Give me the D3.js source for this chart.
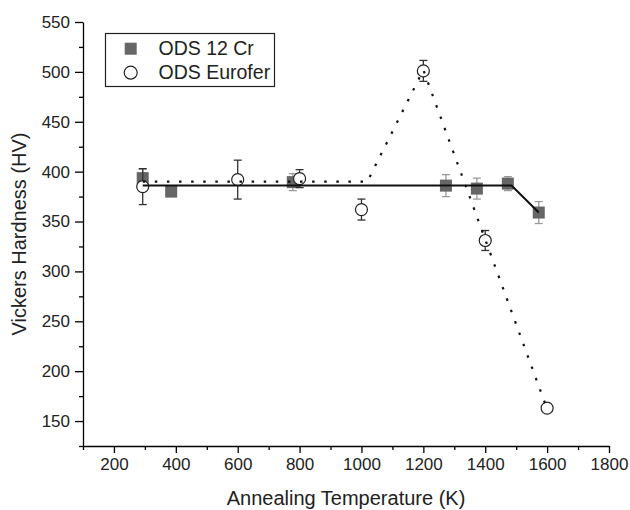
<!DOCTYPE html>
<html>
<head>
<meta charset="utf-8">
<script src="https://cdn.jsdelivr.net/npm/d3@7"></script>
<style>
  body { margin: 0; background: #fff; }
  svg { display: block; font-family: "Liberation Sans", Arial, sans-serif; }
</style>
</head>
<body>
<svg id="chart" width="630" height="510"></svg>
<script>
// ---- data ----
const cr12T   = [293, 385, 778, 1273, 1373, 1473, 1573];
const cr12HV  = [393.5, 380, 389.5, 386, 383, 388, 359];
const cr12Err = [9, 3, 8.5, 11, 10.5, 7, 11];

const eurT   = [293, 600, 800, 1000, 1200, 1400, 1600];
const eurHV  = [385, 392, 393, 362, 501, 331, 163];
const eurErr = [18, 19.5, 9, 10.5, 10.5, 10, 3];

const cr12FitT  = [293, 1485, 1573];
const cr12FitHV = [386, 386, 359];
const eurFitT   = [293, 1019, 1200, 1600];
const eurFitHV  = [390, 390, 502, 162];

const xMajor = [200, 400, 600, 800, 1000, 1200, 1400, 1600, 1800];
const xMinor = [100, 300, 500, 700, 900, 1100, 1300, 1500, 1700];
const yMajor = [150, 200, 250, 300, 350, 400, 450, 500, 550];
const yMinor = [125, 175, 225, 275, 325, 375, 425, 475, 525];

const legendLabels = ["ODS 12 Cr", "ODS Eurofer"];
const xTitle = "Annealing Temperature (K)";
const yTitle = "Vickers Hardness (HV)";

// ---- layout ----
const svg = d3.select("#chart");
const x = d3.scaleLinear().domain([100, 1800]).range([83, 609]);
const y = d3.scaleLinear().domain([125, 550]).range([446, 22]);

const tickFont = "17px";

// minor ticks
const xMinAxis = d3.axisBottom(x).tickValues(xMinor).tickSize(4).tickFormat("");
const yMinAxis = d3.axisLeft(y).tickValues(yMinor).tickSize(4).tickFormat("");
svg.append("g").attr("transform", `translate(0,${y(125)})`).call(xMinAxis)
  .call(g => g.select(".domain").remove())
  .selectAll("line").attr("stroke", "#000").attr("stroke-width", 1.3);
svg.append("g").attr("transform", `translate(${x(100)},0)`).call(yMinAxis)
  .call(g => g.select(".domain").remove())
  .selectAll("line").attr("stroke", "#000").attr("stroke-width", 1.3);

// major axes
const xAxis = d3.axisBottom(x).tickValues(xMajor).tickFormat(d3.format("d"))
  .tickSize(7).tickSizeOuter(0).tickPadding(5);
const yAxis = d3.axisLeft(y).tickValues(yMajor).tickFormat(d3.format("d"))
  .tickSize(8).tickSizeOuter(0).tickPadding(5);
const gx = svg.append("g").attr("transform", `translate(0,${y(125)})`).call(xAxis);
const gy = svg.append("g").attr("transform", `translate(${x(100)},0)`).call(yAxis);
[gx, gy].forEach(g => {
  g.select(".domain").attr("stroke", "#000").attr("stroke-width", 1.3);
  g.selectAll("line").attr("stroke", "#000").attr("stroke-width", 1.3);
  g.selectAll("text").attr("font-size", tickFont).attr("fill", "#222")
    .attr("font-family", "Liberation Sans, Arial, sans-serif");
});

// axis titles
svg.append("text")
  .attr("x", (x(100) + x(1800)) / 2).attr("y", 505)
  .attr("text-anchor", "middle").attr("font-size", "20px").attr("fill", "#222")
  .text(xTitle);
svg.append("text")
  .attr("transform", `translate(26,${(y(125) + y(550)) / 2}) rotate(-90)`)
  .attr("text-anchor", "middle").attr("font-size", "20px").attr("fill", "#222")
  .text(yTitle);

// ---- marks ----
const plot = svg.append("g");
const cr12 = cr12T.map((t, i) => ({t, v: cr12HV[i], e: cr12Err[i]}));
const eur = eurT.map((t, i) => ({t, v: eurHV[i], e: eurErr[i]}));

function errorBars(data, color) {
  const g = plot.append("g").attr("stroke", color).attr("stroke-width", 1.3);
  data.forEach(d => {
    g.append("line").attr("x1", x(d.t)).attr("x2", x(d.t))
      .attr("y1", y(d.v - d.e)).attr("y2", y(d.v + d.e));
    [d.v - d.e, d.v + d.e].forEach(v => {
      g.append("line").attr("x1", x(d.t) - 4).attr("x2", x(d.t) + 4)
        .attr("y1", y(v)).attr("y2", y(v));
    });
  });
}

// squares
errorBars(cr12, "#9a9a9a");
plot.append("g").selectAll("rect").data(cr12).join("rect")
  .attr("x", d => x(d.t) - 6).attr("y", d => y(d.v) - 6)
  .attr("width", 12).attr("height", 12).attr("fill", "#666");

// circles
errorBars(eur, "#333");
plot.append("g").selectAll("circle").data(eur).join("circle")
  .attr("cx", d => x(d.t)).attr("cy", d => y(d.v)).attr("r", 6)
  .attr("fill", "#fff").attr("stroke", "#222").attr("stroke-width", 1.2);

// fit lines
const line = d3.line().x(d => x(d[0])).y(d => y(d[1]));
plot.append("path")
  .datum(cr12FitT.map((t, i) => [t, cr12FitHV[i]]))
  .attr("d", line).attr("fill", "none").attr("stroke", "#111").attr("stroke-width", 2);
plot.append("path")
  .datum(eurFitT.map((t, i) => [t, eurFitHV[i]]))
  .attr("d", line).attr("fill", "none").attr("stroke", "#111").attr("stroke-width", 2.2)
  .attr("stroke-dasharray", "2.5,9.6");

// ---- legend ----
const lg = svg.append("g");
lg.append("rect").attr("x", 105.5).attr("y", 33.5).attr("width", 169).attr("height", 53)
  .attr("fill", "#fff").attr("stroke", "#222").attr("stroke-width", 1.2);
lg.append("rect").attr("x", 124.7).attr("y", 42.7).attr("width", 12).attr("height", 12).attr("fill", "#666");
lg.append("circle").attr("cx", 130.7).attr("cy", 72.7).attr("r", 6.5)
  .attr("fill", "#fff").attr("stroke", "#222").attr("stroke-width", 1.2);
lg.selectAll("text.leg").data(legendLabels).join("text").attr("class", "leg")
  .attr("x", 158.5).attr("y", (d, i) => 54.5 + i * 24.5)
  .attr("font-size", "19.5px").attr("fill", "#222").text(d => d);
</script>
</body>
</html>
